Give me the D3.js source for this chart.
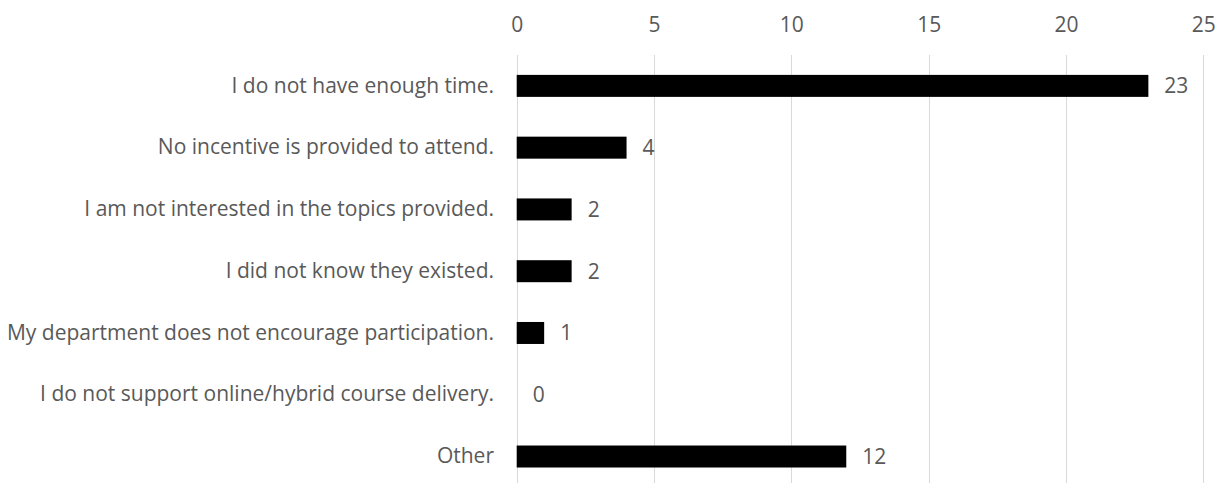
<!DOCTYPE html>
<html>
<head>
<meta charset="utf-8">
<script src="https://cdn.jsdelivr.net/npm/d3@7"></script>
<style>
  html, body { margin: 0; padding: 0; background: #fff; }
  svg { display: block; }
  text { font-family: "Open Sans", "Segoe UI", sans-serif; fill: #595959; }
</style>
</head>
<body>
<svg id="chart" width="1226" height="483"></svg>
<script>
// Reasons for not attending
const categories = [
  "I do not have enough time.",
  "No incentive is provided to attend.",
  "I am not interested in the topics provided.",
  "I did not know they existed.",
  "My department does not encourage participation.",
  "I do not support online/hybrid course delivery.",
  "Other"
];
const counts = [23, 4, 2, 2, 1, 0, 12];
const tickValues = [0, 5, 10, 15, 20, 25];

const data = categories.map((c, i) => ({ category: c, value: counts[i] }));

const svg = d3.select("#chart");
const fontSize = 21;

const x = d3.scaleLinear().domain([0, 25]).range([516.7, 1203.3]);
const y = d3.scaleBand()
  .domain(categories)
  .range([55, 487.4])
  .paddingInner(0.644)
  .paddingOuter(0.322);

// vertical gridlines
svg.append("g")
  .selectAll("line")
  .data(tickValues)
  .join("line")
  .attr("x1", d => Math.round(x(d)) + 0.5)
  .attr("x2", d => Math.round(x(d)) + 0.5)
  .attr("y1", 55)
  .attr("y2", 487)
  .attr("stroke", "#d9d9d9")
  .attr("stroke-width", 1);

// top axis labels
const xAxis = d3.axisTop(x).tickValues(tickValues).tickSize(0).tickPadding(0);
const gx = svg.append("g").attr("transform", "translate(0,31.5)").call(xAxis);
gx.select(".domain").remove();
gx.selectAll("text")
  .attr("dy", 0)
  .style("font-size", fontSize + "px")
  .style("font-family", null)
  .attr("fill", "#595959");

// category labels
const yAxis = d3.axisLeft(y).tickSize(0).tickPadding(0);
const gy = svg.append("g").attr("transform", "translate(494,0)").call(yAxis);
gy.select(".domain").remove();
gy.selectAll("text")
  .style("font-size", fontSize + "px")
  .style("font-family", null)
  .attr("fill", "#595959");

// bars
svg.append("g")
  .selectAll("rect")
  .data(data)
  .join("rect")
  .attr("x", x(0))
  .attr("y", d => y(d.category))
  .attr("width", d => x(d.value) - x(0))
  .attr("height", y.bandwidth())
  .attr("fill", "#000");

// value labels
svg.append("g")
  .selectAll("text")
  .data(data)
  .join("text")
  .attr("x", d => x(d.value) + 16)
  .attr("y", d => y(d.category) + y.bandwidth() / 2)
  .attr("dy", "0.35em")
  .style("font-size", fontSize + "px")
  .text(d => d.value);
</script>
</body>
</html>
